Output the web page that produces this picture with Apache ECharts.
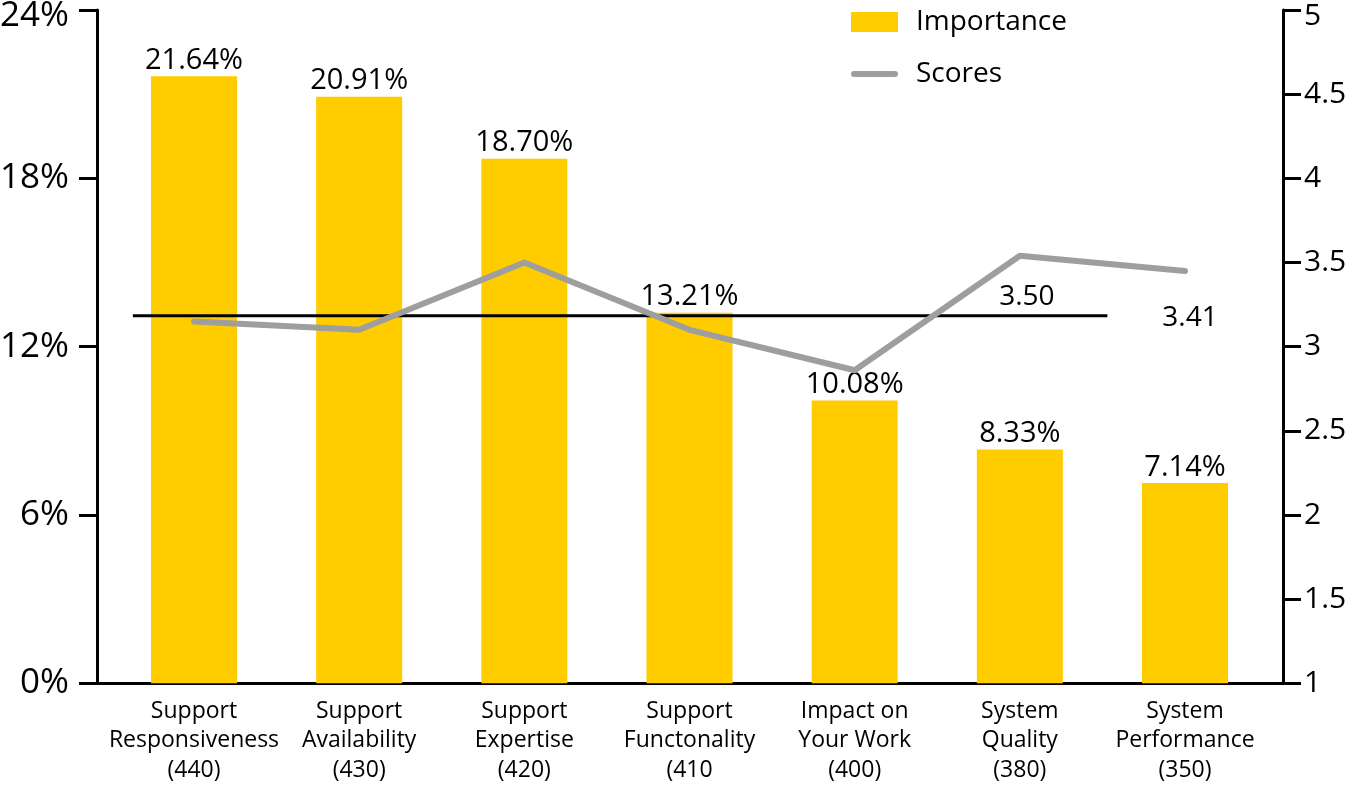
<!DOCTYPE html>
<html>
<head>
<meta charset="utf-8">
<script src="https://cdn.jsdelivr.net/npm/echarts@6/dist/echarts.min.js"></script>
<style>html,body{margin:0;padding:0;background:#fff;}#c{width:1347px;height:785px;}</style>
</head>
<body>
<div id="c"></div>
<script>
const categories = [
  'Support\nResponsiveness\n(440)',
  'Support\nAvailability\n(430)',
  'Support\nExpertise\n(420)',
  'Support\nFunctonality\n(410',
  'Impact on\nYour Work\n(400)',
  'System\nQuality\n(380)',
  'System\nPerformance\n(350)'
];
const importance = [21.64, 20.91, 18.70, 13.21, 10.08, 8.33, 7.14];
const scores = [3.15, 3.10, 3.50, 3.10, 2.86, 3.54, 3.45];
const scoreLabels = ['', '', '', '', '', '3.50', '3.41'];
const leftTicks = { min: 0, max: 24, interval: 6 };
const rightTicks = { min: 1, max: 5, interval: 0.5 };
// reference line: value on left axis and its span in category-index units
const refValue = 13.1;
const refSpan = [-0.37, 5.53];

const FONT = 'Open Sans';
const W = 1347;
const gridL = 111.4, gridR = 79.4, gridT = 10, gridB = 101.7;
const axisL = 97, axisR = 64, tickLen = 18;
const catW = (W - gridL - gridR) / categories.length;
const ovMin = -0.5 - (gridL - axisL) / catW;
const ovMax = categories.length - 0.5 + (gridR - axisR) / catW;

const black3 = () => ({ color: '#000', width: 3 });

const chart = echarts.init(document.getElementById('c'));
chart.setOption({
  animation: false,
  textStyle: { fontFamily: FONT, color: '#000' },
  legend: {
    orient: 'vertical', left: 846, top: 2,
    itemWidth: 47, itemHeight: 20, itemGap: 22,
    symbolKeepAspect: true,
    textStyle: { fontSize: 28, lineHeight: 30, color: '#000', fontFamily: FONT, padding: [0, 0, 0, 13] },
    data: [
      { name: 'Importance', icon: 'rect' },
      { name: 'Scores', icon: 'path://M3,0 H44 A3,3 0 0 1 44,6 H3 A3,3 0 0 1 3,0 Z' }
    ]
  },
  grid: [
    { left: gridL, right: gridR, top: gridT, bottom: gridB, outerBoundsMode: 'none', containLabel: false },
    { left: axisL, right: axisR, top: gridT, bottom: gridB, outerBoundsMode: 'none', containLabel: false },
    // narrow strips that carry the outward tick marks
    { left: axisL - tickLen, width: tickLen, top: gridT, bottom: gridB, outerBoundsMode: 'none', containLabel: false },
    { left: W - axisR, width: tickLen, top: gridT, bottom: gridB, outerBoundsMode: 'none', containLabel: false }
  ],
  xAxis: [
    {
      type: 'category', gridIndex: 0, data: categories,
      axisLine: { show: false }, axisTick: { show: false },
      axisLabel: { fontSize: 23, lineHeight: 29.5, color: '#000', margin: 13, interval: 0, fontFamily: FONT }
    },
    {
      type: 'value', gridIndex: 1, min: ovMin, max: ovMax,
      axisLine: { show: true, onZero: false, lineStyle: black3() },
      axisTick: { show: false }, axisLabel: { show: false }, splitLine: { show: false }
    },
    { type: 'value', gridIndex: 2, show: false, min: 0, max: 1 },
    { type: 'value', gridIndex: 3, show: false, min: 0, max: 1 }
  ],
  yAxis: [
    {
      type: 'value', gridIndex: 0, show: false,
      min: leftTicks.min, max: leftTicks.max, interval: leftTicks.interval
    },
    {
      type: 'value', gridIndex: 0, show: false,
      min: rightTicks.min, max: rightTicks.max, interval: rightTicks.interval
    },
    {
      type: 'value', gridIndex: 1, position: 'left',
      min: leftTicks.min, max: leftTicks.max, interval: leftTicks.interval,
      axisLine: { show: true, onZero: false, lineStyle: black3() },
      axisTick: { show: true, inside: false, length: tickLen, lineStyle: black3() },
      axisLabel: {
        fontSize: 35, color: '#000', margin: 28, fontFamily: FONT,
        formatter: v => v === leftTicks.max ? '{top|' + v + '%}' : v + '%',
        rich: { top: { fontSize: 35, color: '#000', fontFamily: FONT, padding: [12, 0, 0, 0] } }
      },
      splitLine: { show: false }
    },
    {
      type: 'value', gridIndex: 1, position: 'right',
      min: rightTicks.min, max: rightTicks.max, interval: rightTicks.interval,
      axisLine: { show: true, onZero: false, lineStyle: black3() },
      axisTick: { show: true, inside: false, length: tickLen, lineStyle: black3() },
      axisLabel: {
        fontSize: 30, color: '#000', margin: 21, fontFamily: FONT,
        formatter: v => v === rightTicks.max ? '{top|' + v + '}' : String(v),
        rich: { top: { fontSize: 30, color: '#000', fontFamily: FONT, padding: [12, 0, 0, 0] } }
      },
      splitLine: { show: false }
    },
    {
      type: 'value', gridIndex: 2,
      min: leftTicks.min, max: leftTicks.max, interval: leftTicks.interval,
      axisLine: { show: false }, axisTick: { show: false }, axisLabel: { show: false },
      splitLine: { show: true, lineStyle: black3() }
    },
    {
      type: 'value', gridIndex: 3,
      min: rightTicks.min, max: rightTicks.max, interval: rightTicks.interval,
      axisLine: { show: false }, axisTick: { show: false }, axisLabel: { show: false },
      splitLine: { show: true, lineStyle: black3() }
    }
  ],
  series: [
    {
      name: 'Importance', type: 'bar', xAxisIndex: 0, yAxisIndex: 0,
      data: importance, barWidth: 86, z: 2,
      itemStyle: { color: '#FFCC00' },
      label: {
        show: true, position: 'top', distance: 1, fontSize: 29, color: '#000', fontFamily: FONT,
        formatter: p => p.value.toFixed(2) + '%'
      }
    },
    {
      name: 'Reference', type: 'line', xAxisIndex: 1, yAxisIndex: 2,
      data: refSpan.map(x => [x, refValue]),
      symbol: 'none', z: 3, silent: true,
      lineStyle: { color: '#000', width: 3 }
    },
    {
      name: 'Scores', type: 'line', xAxisIndex: 0, yAxisIndex: 1,
      data: scores.map((v, i) => ({
        value: v,
        label: {
          show: scoreLabels[i] !== '',
          position: 'bottom',
          distance: i === 5 ? 27 : 33,
          offset: i === 5 ? [7, 0] : [5, 0],
          formatter: scoreLabels[i],
          fontSize: 28, color: '#000', fontFamily: FONT
        }
      })),
      symbol: 'circle', symbolSize: 0.1, showSymbol: true, z: 4,
      itemStyle: { color: '#9D9E9D' },
      lineStyle: { color: '#9D9E9D', width: 6, cap: 'round', join: 'round' }
    }
  ]
});
</script>
</body>
</html>
